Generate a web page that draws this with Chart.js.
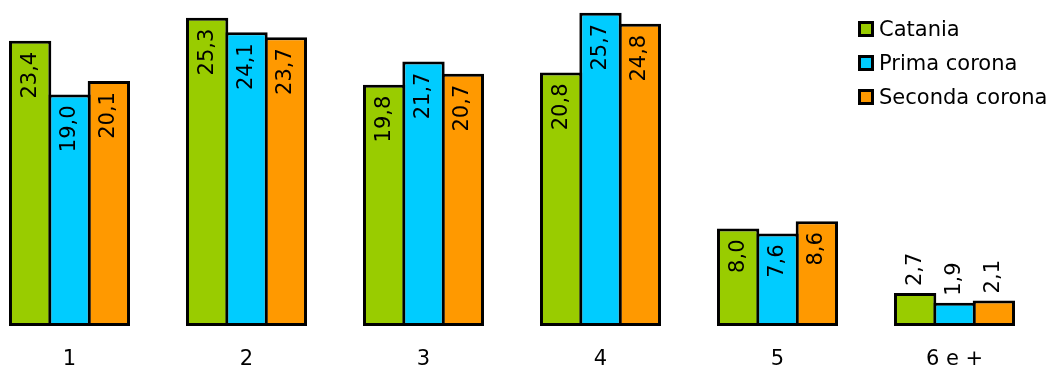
<script src="https://cdn.jsdelivr.net/npm/chart.js@4.4.7/dist/chart.umd.min.js"></script>

<style>
  body {
    margin: 0;
    background: #fff;
    overflow: hidden;
  }
  .chart-container {
    position: absolute;
    left: -19px;
    top: 0;
    width: 1062px;
    height: 368px;
  }
  .legend {
    position: absolute;
    left: 858px;
    top: 12px;
    font-family: 'DejaVu Sans', Verdana, sans-serif;
    font-size: 21px;
    color: #000;
  }
  .legend-row {
    display: flex;
    align-items: center;
    height: 34px;
    white-space: nowrap;
  }
  .legend-box {
    width: 10px;
    height: 10px;
    border: 3px solid #000;
    margin-right: 5px;
  }
</style>

<div class="chart-container">
  <canvas id="chart"></canvas>
</div>
<div class="legend" id="legend"></div>

<script>
  const categories = ['1', '2', '3', '4', '5', '6 e +']
  const seriesNames = ['Catania', 'Prima corona', 'Seconda corona']
  const catania = [23.4, 25.3, 19.8, 20.8, 8.0, 2.7]
  const primaCorona = [19.0, 24.1, 21.7, 25.7, 7.6, 1.9]
  const secondaCorona = [20.1, 23.7, 20.7, 24.8, 8.6, 2.1]
  const colors = ['#99cc00', '#00ccff', '#ff9900']

  const fontFamily = "'DejaVu Sans', Verdana, sans-serif"

  // format numbers with a comma as decimal separator
  function fmt(v) {
    return v.toFixed(1).replace('.', ',')
  }

  // draws the rotated value labels, inside the bar top or above short bars
  const valueLabels = {
    id: 'valueLabels',
    afterDatasetsDraw(chart) {
      const ctx = chart.ctx
      ctx.save()
      ctx.font = '21px ' + fontFamily
      ctx.fillStyle = '#000'
      ctx.textBaseline = 'middle'
      chart.data.datasets.forEach((ds, i) => {
        const meta = chart.getDatasetMeta(i)
        meta.data.forEach((bar, j) => {
          const text = fmt(ds.data[j])
          const w = ctx.measureText(text).width
          const h = bar.base - bar.y
          ctx.save()
          ctx.translate(bar.x, bar.y)
          ctx.rotate(-Math.PI / 2)
          if (h > w + 16) {
            ctx.textAlign = 'right'
            ctx.fillText(text, -11, 0)
          } else {
            ctx.textAlign = 'left'
            ctx.fillText(text, 7, 0)
          }
          ctx.restore()
        })
      })
      ctx.restore()
    }
  }

  const datasets = [catania, primaCorona, secondaCorona].map((values, i) => ({
    label: seriesNames[i],
    data: values,
    backgroundColor: colors[i],
    borderColor: '#000',
    borderWidth: 3,
    borderSkipped: false,
    barPercentage: 1.076,
    categoryPercentage: 0.667
  }))

  new Chart(document.getElementById('chart'), {
    type: 'bar',
    data: {
      labels: categories,
      datasets: datasets
    },
    options: {
      responsive: true,
      maintainAspectRatio: false,
      animation: false,
      layout: { padding: 0 },
      plugins: {
        legend: { display: false },
        tooltip: { enabled: false }
      },
      scales: {
        x: {
          grid: { display: false, drawTicks: false },
          border: { display: false },
          ticks: {
            color: '#000',
            padding: 21,
            font: { family: fontFamily, size: 21 }
          },
          afterFit: (scale) => {
            scale.height = 42
          }
        },
        y: {
          display: false,
          min: 0,
          max: 26.75
        }
      }
    },
    plugins: [valueLabels]
  })

  // html legend
  const legend = document.getElementById('legend')
  seriesNames.forEach((name, i) => {
    const row = document.createElement('div')
    row.className = 'legend-row'
    row.innerHTML = '<div class="legend-box" style="background:' + colors[i] + '"></div>' + name
    legend.appendChild(row)
  })
</script>
